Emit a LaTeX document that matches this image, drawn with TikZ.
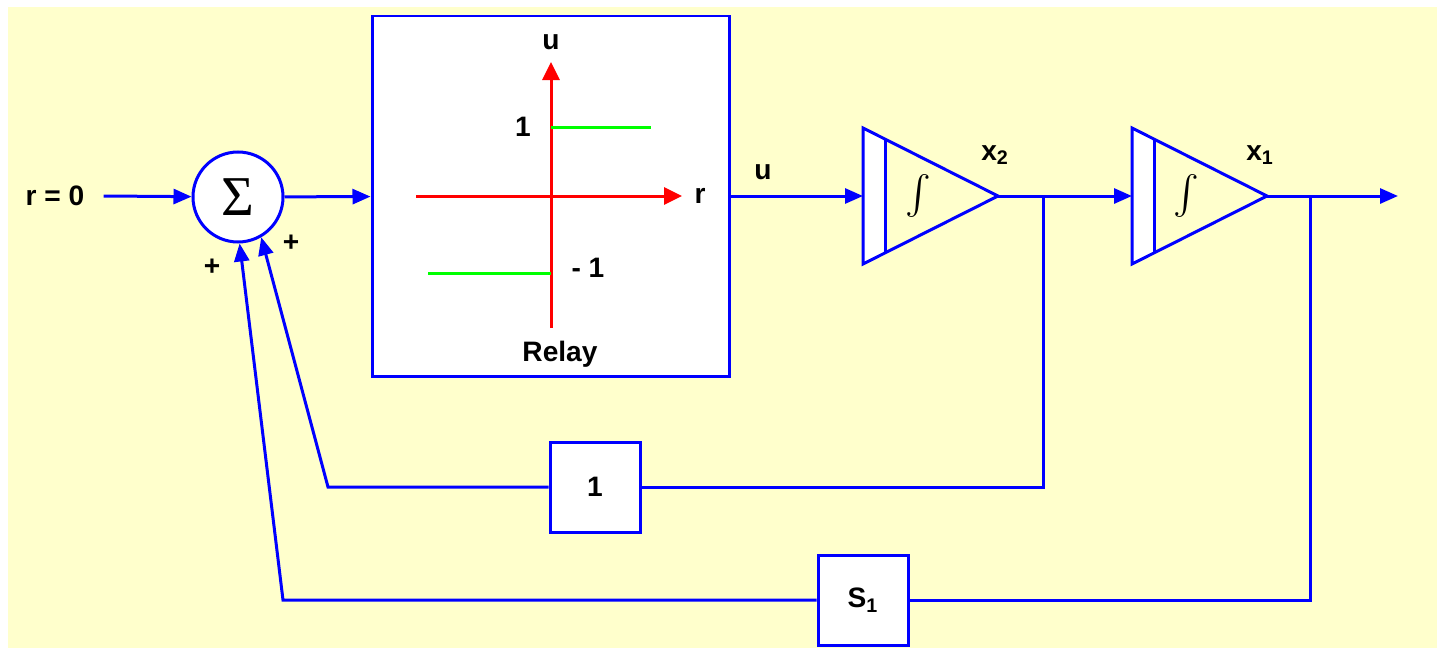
\documentclass[tikz,border=0pt]{standalone}
\usepackage{fontspec}
\setmainfont{Liberation Sans}
\newfontfamily\sigmafont{Liberation Serif}
\usetikzlibrary{arrows.meta}
\definecolor{bdBlue}{HTML}{0000FF}
\definecolor{bdBack}{HTML}{FFFFCC}
\definecolor{bdRed}{HTML}{FF0000}
\definecolor{bdGreen}{HTML}{00FF00}

\begin{document}
\begin{tikzpicture}[
  wire/.style={draw=bdBlue, line width=0.06cm},
  arr/.style={wire, -{Triangle[length=3.6mm, width=3mm]}},
  blk/.style={wire, fill=white},
  gain/.style={blk, minimum size=1.8cm, inner sep=0pt,
               font=\fontsize{16}{19}\selectfont\bfseries},
  axis/.style={draw=bdRed, line width=0.06cm,
               -{Triangle[length=3.6mm, width=3.4mm]}},
  curve/.style={draw=bdGreen, line width=0.06cm},
  lab/.style={font=\fontsize{16}{19}\selectfont\bfseries, inner sep=0pt},
  intsym/.style={inner sep=0pt}
]

% background
\useasboundingbox (0,0) rectangle (28.74,-12.96);
\fill[bdBack] (0.16,-0.14) rectangle (28.74,-12.96);

% ===== summing junction and relay =====
\node[lab] (rin) at (1.1,-3.92) {r = 0};
\node[blk, circle, minimum size=1.8cm, inner sep=0pt] (sum) at (4.76,-3.94)
      {\fontsize{32}{32}\sigmafont Σ};
\node[lab] (plusA) at (4.24,-5.34) {+};
\node[lab] (plusB) at (5.82,-4.86) {+};

\node[blk, minimum width=7.14cm, minimum height=7.2cm] (relay) at (11.01,-3.92) {};

% relay characteristic
\coordinate (orig) at (11.02,-3.92);
\coordinate (rneg) at (8.32,-3.92);
\coordinate (rpos) at (13.64,-3.92);
\coordinate (uneg) at (11.02,-6.56);
\coordinate (upos) at (11.02,-1.24);
\draw[axis] (rneg) -- (rpos);
\draw[axis] (uneg) -- (upos);
\draw[curve] (11.02,-2.54) -- (13.02,-2.54);
\draw[curve] (8.56,-5.46) -- (11.02,-5.46);
\node[lab] (uax)   at (11.02,-0.84) {u};
\node[lab] (rax)   at (14.0,-3.92)  {r};
\node[lab] (one)   at (10.46,-2.54) {1};
\node[lab] (mone)  at (11.76,-5.36) {- 1};
\node[lab] (rlab)  at (11.2,-7.08)  {Relay};

\node[lab] (ulab) at (15.26,-3.44) {u};

% ===== integrators =====
\begin{scope}[shift={(17.26,-3.92)}]
  \fill[white] (0,1.36) -- (0.44,1.138) -- (0.44,-1.138) -- (0,-1.36) -- cycle;
  \draw[wire] (0,1.36) -- (2.7,0) -- (0,-1.36) -- cycle;
  \draw[wire] (0.44,1.138) -- (0.44,-1.138);
  \node[intsym] (intAsym) at (1.1,0) {\scalebox{2.2}{$\int$}};
  \coordinate (intAin) at (0,0);
  \coordinate (intAout) at (2.7,0);
\end{scope}
\node[lab] (xtwo) at (19.9,-3.1) {x\textsubscript{2}};

\begin{scope}[shift={(22.64,-3.92)}]
  \fill[white] (0,1.36) -- (0.44,1.138) -- (0.44,-1.138) -- (0,-1.36) -- cycle;
  \draw[wire] (0,1.36) -- (2.7,0) -- (0,-1.36) -- cycle;
  \draw[wire] (0.44,1.138) -- (0.44,-1.138);
  \node[intsym] (intBsym) at (1.08,0) {\scalebox{2.2}{$\int$}};
  \coordinate (intBin) at (0,0);
  \coordinate (intBout) at (2.7,0);
\end{scope}
\node[lab] (xone) at (25.2,-3.1) {x\textsubscript{1}};

% ===== feedback gains =====
\node[gain] (kone) at (11.9,-9.74) {1};
\node[gain] (sone) at (17.26,-12.0) {S\textsubscript{1}};

\coordinate (brA)  at (20.86,-3.92);
\coordinate (brB)  at (26.2,-3.92);
\coordinate (yout) at (27.96,-3.92);
\coordinate (fbA)  at (6.56,-9.74);
\coordinate (fbB)  at (5.66,-12.0);

% ===== connectors =====
\draw[arr] ([xshift=0.38cm]rin.east) -- (sum);
\draw[arr] (sum) -- (relay);
\draw[arr] (relay) -- (intAin);
\draw[wire] (intAout) -- (brA);
\draw[arr] (brA) -- (intBin);
\draw[wire] (intBout) -- (brB);
\draw[arr] (brB) -- (yout);

\draw[wire] (brA) |- (kone);
\draw[arr] (kone) -- (fbA) -- (sum.-60);
\draw[wire] (brB) |- (sone);
\draw[arr] (sone) -- (fbB) -- (sum.-88);

\end{tikzpicture}
\end{document}
